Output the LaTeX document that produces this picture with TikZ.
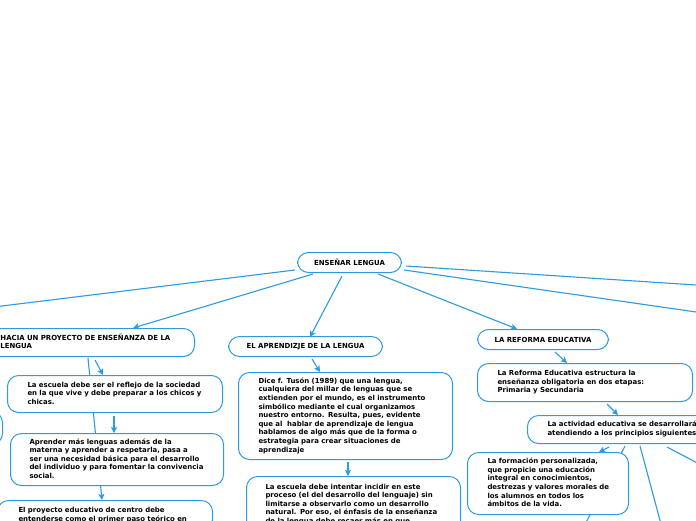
\documentclass[tikz,border=0pt]{standalone}
\usepackage{fontspec}
\setmainfont{DejaVu Sans}
\usetikzlibrary{arrows.meta,backgrounds,calc}
\definecolor{bl}{RGB}{45,155,225}
\newcommand{\tb}[1]{\begin{tabular}{@{}l@{}}#1\end{tabular}}
\begin{document}
\begin{tikzpicture}[x=1pt,y=-1pt,
  box/.style={draw=bl, fill=white, line width=1pt, rounded corners=11pt,
    font=\fontsize{6.95}{8.6}\selectfont\bfseries, inner ysep=0pt, anchor=north west},
  lbox/.style={box, align=left, inner xsep=20pt},
  cbox/.style={box, align=center, inner xsep=0pt},
  conn/.style={draw=bl, line width=1.1pt},
  arr/.style={conn, -{Stealth[length=6pt,width=6pt,inset=1.2pt]}}]
\useasboundingbox (0,0) rectangle (696,520);
\clip (0,0) rectangle (696,520);

% boxes
\node[cbox, minimum width=104pt, minimum height=20pt] (root) at (297,252) {ENSEÑAR LENGUA};
\node[box, align=left, inner xsep=15pt, text width=179pt, minimum height=28pt] (hacia) at (-15,328)
  {\tb{HACIA UN PROYECTO DE ENSEÑANZA DE LA\\LENGUA}};
\node[cbox, minimum width=154pt, minimum height=20pt] (aprend) at (228,336) {EL APRENDIZJE DE LA LENGUA};
\node[cbox, minimum width=131pt, minimum height=20pt] (reforma) at (477,329) {LA REFORMA EDUCATIVA};

\node[lbox, text width=175pt, minimum height=37pt] (escuela) at (7,375)
  {\tb{La escuela debe ser el reflejo de la sociedad\\en la que vive y debe preparar a los chicos y\\chicas.}};
\node[box, align=left, inner xsep=19pt, text width=175pt, minimum height=52pt] (aprender) at (10,433)
  {\tb{Aprender más lenguas además de la\\materna y aprender a respetarla, pasa a\\ser una necesidad básica para el desarrollo\\del individuo y para fomentar la convivencia\\social.}};
\node[box, align=left, inner xsep=21pt, text width=173pt, minimum height=30pt] (proyecto) at (-3,500)
  {\tb{El proyecto educativo de centro debe\\entenderse como el primer paso teórico en}};
\node[box, minimum width=150pt, minimum height=33pt] (leftbox) at (-148,411) {};

\node[lbox, text width=174pt, minimum height=87pt] (dice) at (238,372)
  {\tb{Dice f. Tusón (1989) que una lengua,\\cualquiera del millar de lenguas que se\\extienden por el mundo, es el instrumento\\simbólico mediante el cual organizamos\\nuestro entorno. Resulta, pues, evidente\\que al\ \ hablar de aprendizaje de lengua\\hablamos de algo más que de la forma o\\estrategia para crear situaciones de\\aprendizaje}};
\node[box, align=left, inner xsep=19pt, text width=176pt, minimum height=56pt] (intentar) at (246,476)
  {\tb{La escuela debe intentar incidir en este\\proceso (el del desarrollo del lenguaje) sin\\limitarse a observarlo como un desarrollo\\natural. Por eso, el énfasis de la enseñanza\\de la lengua debe recaer más en que}};

\node[lbox, text width=175pt, minimum height=38pt] (estruct) at (477,363)
  {\tb{La Reforma Educativa estructura la\\enseñanza obligatoria en dos etapas:\\Primaria y Secundaria}};
\node[lbox, text width=173pt, minimum height=28pt] (activ) at (527,415)
  {\tb{La actividad educativa se desarrollará\\atendiendo a los principios siguientes:}};
\node[lbox, text width=121pt, minimum height=62pt] (formac) at (467,452)
  {\tb{La formación personalizada,\\que propicie una educación\\integral en conocimientos,\\destrezas y valores morales de\\los alumnos en todos los\\ámbitos de la vida.}};

% free ends
\coordinate (offL) at (-100,318.5);
\coordinate (offR1) at (800,291.8);
\coordinate (offR2) at (800,326.9);
\coordinate (offB1) at (567,560);
\coordinate (offB2) at (670.7,560);
\coordinate (offR3) at (760,496);

\begin{pgfonlayer}{background}
\fill[white] (0,0) rectangle (696,520);
\clip (0,0) rectangle (696,520);
\draw[conn] ($(root.south west)+(-2,-3)$) -- (offL);
\draw[arr] ($(root.south west)+(16,1)$) -- ($(hacia.north west)+(148,0)$);
\draw[arr] ($(root.south west)+(45,3)$) -- ($(aprend.north west)+(82,1)$);
\draw[arr] ($(root.south west)+(81,1)$) -- ($(reforma.north west)+(40,0)$);
\draw[conn] ($(root.north east)+(4,14)$) -- (offR1);
\draw[conn] ($(root.north east)+(2,18)$) -- (offR2);
\draw[arr] ($(hacia.south west)+(110,3)$) -- ($(escuela.north west)+(96,0)$);
\draw[arr] ($(hacia.south west)+(103,1)$) -- ($(proyecto.north west)+(105,0)$);
\draw[arr] ($(escuela.south west)+(107,3)$) -- ($(aprender.north west)+(104,0)$);
\draw[arr] ($(aprend.south west)+(84,2)$) -- ($(dice.north west)+(82,0)$);
\draw[arr] ($(dice.south west)+(110,2)$) -- ($(intentar.north west)+(102,0)$);
\draw[arr] ($(reforma.south west)+(78,2)$) -- ($(estruct.north west)+(90,0)$);
\draw[arr] ($(estruct.south west)+(130,2)$) -- ($(activ.north west)+(91,0)$);
\draw[arr] ($(activ.south west)+(82,3)$) -- ($(formac.north west)+(132,0)$);
\draw[conn] ($(activ.south west)+(98,2)$) -- (offB1);
\draw[conn] ($(activ.south west)+(113,2)$) -- (offB2);
\draw[conn] ($(activ.south west)+(140,3)$) -- (offR3);
\end{pgfonlayer}
\end{tikzpicture}
\end{document}
